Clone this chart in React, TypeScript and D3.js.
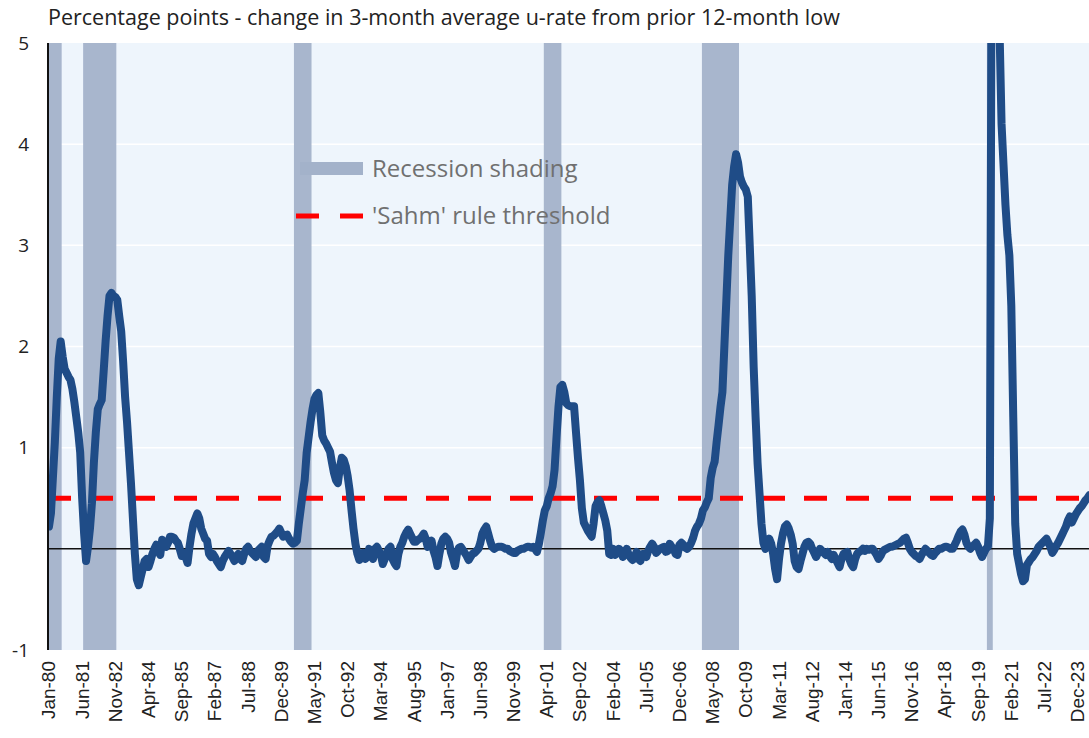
import React from "react";
import * as d3 from "d3";

// Monthly values, Jan-1980 .. Jun-2024 (percentage points)
const v1980s = [
  0.22, 0.35, 0.7, 1.05, 1.5, 1.88, 2.05, 1.9, 1.78, 1.74, 1.7, 1.67,
  1.58, 1.45, 1.3, 1.15, 0.95, 0.5, 0.15, -0.12, 0.02, 0.2, 0.45, 0.85,
  1.15, 1.38, 1.43, 1.47, 1.75, 2.05, 2.3, 2.5, 2.53, 2.5, 2.49, 2.46,
  2.3, 2.15, 1.85, 1.5, 1.25, 0.95, 0.65, 0.3, -0.05, -0.3, -0.36, -0.28,
  -0.2, -0.12, -0.1, -0.18, -0.12, -0.05, 0.0, 0.04, -0.02, -0.06, 0.09, 0.05,
  0.02, 0.06, 0.12, 0.12, 0.11, 0.08, 0.06, 0.0, -0.07, -0.04, -0.08, -0.14,
  0.02, 0.15, 0.25, 0.3, 0.35, 0.3, 0.2, 0.15, 0.1, 0.08, -0.05, -0.08,
  -0.05, -0.08, -0.12, -0.15, -0.18, -0.12, -0.08, -0.05, -0.02, -0.05, -0.08, -0.12,
  -0.08, -0.05, -0.1, -0.12, -0.05, 0.0, 0.02, -0.02, -0.04, -0.06, -0.08, -0.02,
  0.0, 0.02, -0.08, -0.1, 0.03, 0.08, 0.12, 0.13, 0.15, 0.17, 0.2, 0.16,
];
const v1990s = [
  0.12, 0.13, 0.14, 0.1, 0.07, 0.05, 0.06, 0.08, 0.25, 0.4, 0.55, 0.68,
  0.95, 1.1, 1.25, 1.38, 1.48, 1.52, 1.54, 1.35, 1.12, 1.07, 1.04, 1.0,
  0.96, 0.85, 0.75, 0.68, 0.65, 0.8, 0.9, 0.88, 0.82, 0.72, 0.58, 0.38,
  0.2, 0.05, -0.05, -0.11, -0.06, -0.04, -0.1, -0.08, 0.0, -0.06, -0.1, 0.0,
  0.02, -0.02, -0.06, -0.15, -0.1, -0.04, 0.0, 0.02, -0.1, -0.14, -0.17, -0.05,
  0.02, 0.06, 0.12, 0.16, 0.19, 0.15, 0.11, 0.07, 0.07, 0.09, 0.1, 0.12,
  0.15, 0.1, 0.02, 0.05, 0.08, -0.02, -0.08, -0.17, -0.05, 0.05, 0.1, 0.12,
  0.1, 0.06, -0.04, -0.1, -0.17, -0.05, 0.01, 0.02, -0.01, -0.04, -0.07, -0.11,
  -0.08, -0.05, -0.04, -0.02, 0.0, 0.06, 0.15, 0.19, 0.22, 0.15, 0.08, 0.02,
  0.0, 0.01, 0.02, 0.02, 0.02, 0.01, 0.0, 0.0, -0.02, -0.03, -0.04, -0.04,
];
const v2000s = [
  -0.02, -0.01, 0.0, 0.0, 0.01, 0.02, 0.02, 0.01, 0.02, 0.0, -0.03, 0.05,
  0.16, 0.28, 0.38, 0.42, 0.5, 0.55, 0.62, 0.78, 1.1, 1.4, 1.6, 1.62,
  1.55, 1.44, 1.42, 1.41, 1.41, 1.41, 1.15, 0.9, 0.68, 0.4, 0.26, 0.22,
  0.18, 0.15, 0.12, 0.25, 0.42, 0.46, 0.48, 0.42, 0.35, 0.28, 0.18, -0.05,
  -0.06, 0.0, -0.06, -0.04, 0.0, -0.02, -0.08, -0.04, 0.0, -0.06, -0.09, -0.11,
  -0.08, -0.03, -0.1, -0.12, -0.05, -0.05, -0.08, -0.02, 0.02, 0.05, 0.02, -0.04,
  -0.02, 0.0, 0.01, 0.02, -0.03, -0.02, 0.05, 0.02, 0.0, -0.05, -0.06, 0.04,
  0.06, 0.04, 0.01, 0.0, 0.02, 0.06, 0.11, 0.18, 0.22, 0.25, 0.3, 0.38,
  0.41, 0.46, 0.5, 0.7, 0.8, 0.86, 1.05, 1.22, 1.4, 1.55, 2.0, 2.45,
  2.9, 3.25, 3.6, 3.78, 3.9, 3.82, 3.68, 3.62, 3.58, 3.55, 3.48, 3.0,
];
const v2010s = [
  2.5, 1.8, 1.3, 0.85, 0.55, 0.25, 0.06, 0.0, 0.05, 0.1, 0.05, -0.05,
  -0.2, -0.3, -0.1, 0.05, 0.15, 0.22, 0.24, 0.2, 0.14, 0.05, -0.12, -0.18,
  -0.2, -0.12, -0.05, 0.02, 0.06, 0.07, 0.05, 0.0, -0.04, -0.08, -0.04, 0.0,
  -0.02, -0.04, -0.06, -0.03, -0.07, -0.1, -0.06, -0.1, -0.14, -0.18, -0.1, -0.05,
  -0.04, -0.03, -0.1, -0.15, -0.18, -0.1, -0.05, -0.03, -0.02, 0.0, -0.02, 0.0,
  -0.01, 0.0, 0.0, -0.03, -0.06, -0.1, -0.07, -0.03, -0.01, 0.0, 0.01, 0.02,
  0.02, 0.03, 0.04, 0.05, 0.06, 0.08, 0.1, 0.11, 0.06, 0.0, -0.03, -0.05,
  -0.07, -0.08, -0.1, -0.06, -0.03, 0.0, -0.02, -0.04, -0.06, -0.07, -0.04, -0.02,
  0.0, 0.0, 0.01, 0.02, 0.02, 0.01, 0.0, 0.0, 0.04, 0.08, 0.13, 0.17,
  0.19, 0.14, 0.06, 0.02, 0.0, 0.02, 0.04, 0.06, 0.02, -0.04, -0.08, -0.04,
];
const v2020s = [
  0.0, 0.02, 0.3, 6.5, 8.8, 8.5, 7.5, 5.1, 4.2, 3.8, 3.4, 3.1,
  2.9, 2.4, 1.3, 0.25, -0.05, -0.15, -0.25, -0.32, -0.3, -0.16, -0.13, -0.1,
  -0.08, -0.05, -0.02, 0.02, 0.04, 0.06, 0.08, 0.1, 0.06, 0.02, -0.04, -0.01,
  0.03, 0.06, 0.1, 0.14, 0.18, 0.22, 0.28, 0.32, 0.26, 0.3, 0.34, 0.37,
  0.4, 0.42, 0.45, 0.48, 0.5, 0.53,
];
const values = [...v1980s, ...v1990s, ...v2000s, ...v2010s, ...v2020s];

const startYear = 1980;
const threshold = 0.5;

// NBER recessions, first and last month (inclusive)
const recessions: [string, string][] = [
  ["1980-01", "1980-07"],
  ["1981-07", "1982-11"],
  ["1990-07", "1991-03"],
  ["2001-03", "2001-11"],
  ["2007-12", "2009-06"],
  ["2020-02", "2020-04"],
];

const xTickLabels = [
  "Jan-80", "Jun-81", "Nov-82", "Apr-84", "Sep-85", "Feb-87", "Jul-88", "Dec-89",
  "May-91", "Oct-92", "Mar-94", "Aug-95", "Jan-97", "Jun-98", "Nov-99", "Apr-01",
  "Sep-02", "Feb-04", "Jul-05", "Dec-06", "May-08", "Oct-09", "Mar-11", "Aug-12",
  "Jan-14", "Jun-15", "Nov-16", "Apr-18", "Sep-19", "Feb-21", "Jul-22", "Dec-23",
];
const xTickStep = 17;
const yTicks = [5, 4, 3, 2, 1, -1];
const yGrid = [1, 2, 3, 4];

const title = "Percentage points - change in 3-month average u-rate from prior 12-month low";
const legendRecession = "Recession shading";
const legendSahm = "'Sahm' rule threshold";

const W = 1089;
const H = 738;
const L = 48;
const T = 43;
const B = 650;
const monthW = 1.952;

function idx(s: string) {
  const [y, m] = s.split("-").map(Number);
  return (y - startYear) * 12 + (m - 1);
}

export default function App() {
  const n = values.length;
  const x = d3
    .scaleBand<number>()
    .domain(d3.range(n))
    .range([L, L + n * monthW])
    .padding(0);
  const bw = x.bandwidth();
  const y = d3.scaleLinear().domain([-1, 5]).range([B, T]);
  const R = W;

  const line = d3
    .line<number>()
    .x((_, i) => (x(i) as number) + bw / 2)
    .y((d) => y(d));

  const shadeColor = "#a3b2ca";
  const lineColor = "#1f4c87";

  return (
    <svg
      width={W}
      height={H}
      style={{ position: "absolute", left: 0, top: 0, background: "#fff" }}
    >
      <defs>
        <clipPath id="plot">
          <rect x={L} y={T} width={R - L} height={B - T} />
        </clipPath>
      </defs>
      <text
        x={L}
        y={25}
        fontFamily="'Open Sans', sans-serif"
        fontSize={21.5}
        fill="#222"
      >
        {title}
      </text>
      <rect x={L} y={T} width={R - L} height={B - T} fill="#eef5fc" />
      {yGrid.map((g) => (
        <line key={g} x1={L} x2={R} y1={y(g)} y2={y(g)} stroke="#ffffff" strokeWidth={1.5} />
      ))}
      <g clipPath="url(#plot)">
        {recessions.map(([s, e]) => {
          const x0 = x(idx(s)) as number;
          const x1 = (x(idx(e)) as number) + bw;
          return (
            <rect key={s} x={x0} y={T} width={x1 - x0} height={B - T} fill={shadeColor} opacity={0.95} />
          );
        })}
      </g>
      <line x1={L} x2={R} y1={y(0)} y2={y(0)} stroke="#111" strokeWidth={1.5} />
      <line
        x1={L}
        x2={R}
        y1={y(threshold)}
        y2={y(threshold)}
        stroke="#ff0000"
        strokeWidth={5}
        strokeDasharray="23 19"
      />
      <g clipPath="url(#plot)">
        <path
          d={line(values) || ""}
          fill="none"
          stroke={lineColor}
          strokeWidth={8}
          strokeLinejoin="round"
          strokeLinecap="round"
        />
      </g>
      <line x1={L} x2={L} y1={T} y2={B} stroke="#111" strokeWidth={2} />
      {yTicks.map((t) => (
        <text
          key={t}
          x={29}
          y={y(t)}
          dy="0.35em"
          textAnchor="end"
          fontFamily="'Open Sans', sans-serif"
          fontSize={19}
          fill="#222"
        >
          {t}
        </text>
      ))}
      {xTickLabels.map((lab, k) => {
        const cx = (x(k * xTickStep) as number) + bw / 2;
        return (
          <text
            key={lab}
            transform={`translate(${cx + 6.5},${661}) rotate(-90)`}
            textAnchor="end"
            fontFamily="'Liberation Sans', Arial, sans-serif"
            fontSize={19}
            fill="#222"
          >
            {lab}
          </text>
        );
      })}
      <rect x={300} y={162} width={63} height={13} fill={shadeColor} />
      <text x={372} y={177} fontFamily="'Open Sans', sans-serif" fontSize={24} fill="#707070">
        {legendRecession}
      </text>
      <line x1={296} x2={363} y1={216} y2={216} stroke="#ff0000" strokeWidth={5} strokeDasharray="23 21" />
      <text x={372} y={224} fontFamily="'Open Sans', sans-serif" fontSize={24} fill="#707070">
        {legendSahm}
      </text>
    </svg>
  );
}
